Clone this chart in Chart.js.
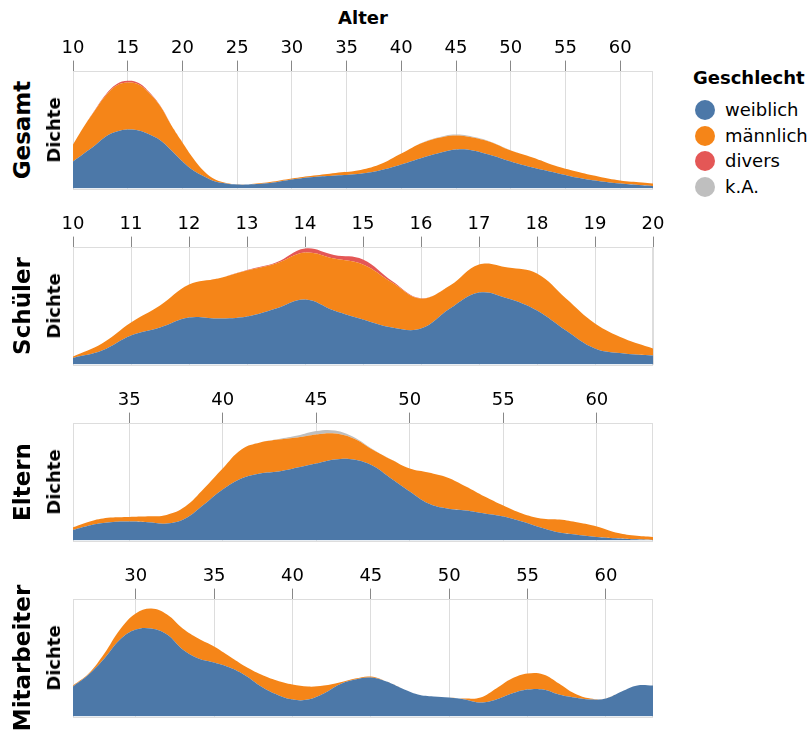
<!DOCTYPE html>
<html>
<head>
<meta charset="utf-8">
<script src="https://cdn.jsdelivr.net/npm/chart.js@4.4.1/dist/chart.umd.min.js"></script>
<style>
  body { margin: 0; background: #fff; font-family: "DejaVu Sans", sans-serif; }
  #wrap { position: relative; width: 809px; height: 733px; overflow: hidden; }
  #wrap canvas { position: absolute; }
  .txt { position: absolute; white-space: nowrap; color: #000; line-height: 1; }
  .rot { transform: translate(-50%, -50%) rotate(-90deg); font-weight: bold; }
  .row { font-size: 23px; }
  .dichte { font-size: 18px; }
  #alter { left: 363px; top: 18px; transform: translate(-50%, -50%); font-weight: bold; font-size: 18px; }
  #legend { position: absolute; left: 693px; top: 67px; font-size: 18px; }
  #legend .title { font-weight: bold; height: 33px; }
  #legend .item { position: relative; height: 25.7px; }
  #legend .dot { position: absolute; left: 2px; top: 0; width: 20px; height: 20px; border-radius: 50%; }
  #legend .name { position: absolute; left: 32px; top: 0; line-height: 20px; }
</style>
</head>
<body>
<div id="wrap">
  <div class="txt" id="alter">Alter</div>
  <div id="legend"><div class="title">Geschlecht</div></div>
</div>
<script>
const genders = ["weiblich", "männlich", "divers", "k.A."];
const colors = ["#4c78a8", "#f58518", "#e45756", "#bfbfbf"];

// Dichte (relative Einheiten) je Geschlecht
// ---- Gesamt ----
const gesamtAlter = [10, 11, 12, 13, 14, 15, 16, 17, 18, 19, 20, 21, 22, 23, 24, 25, 26, 28, 30, 32, 34, 36, 38, 40, 42, 44, 45, 46, 48, 50, 52, 54, 56, 58, 60, 62, 63];
const gesamtWeiblich = [27, 35, 43, 52, 57, 59, 58, 54, 48, 38, 27, 18, 12, 7, 5, 4, 4, 5.5, 9, 11.5, 13, 14.5, 18, 24, 31, 37, 39, 39, 34, 27, 21, 16, 11, 7.5, 5, 3.3, 2.7];
const gesamtMaennlich = [17, 27, 35, 41, 46, 47, 46, 41, 34, 25, 19, 12, 5, 2, 0.7, 0.3, 0.2, 1, 1, 1.5, 2.7, 3.5, 6, 11, 15, 15, 14, 13, 13, 11, 10, 7, 6, 4.5, 3, 2.7, 2.3];
const gesamtDivers = [0, 0, 0.5, 1, 1.5, 1.8, 1.5, 1, 0.5, 0.2, 0, 0, 0, 0, 0, 0, 0, 0, 0, 0, 0, 0, 0, 0, 0, 0, 0, 0, 0, 0, 0, 0, 0, 0, 0, 0, 0];
const gesamtKA = [0, 0, 0, 0, 0, 0, 0, 0, 0, 0, 0, 0, 0, 0, 0, 0, 0, 0, 0, 0, 0, 0, 0, 0, 0.4, 0.8, 1, 1, 0.6, 0.3, 0, 0, 0, 0, 0, 0, 0];

// ---- Schüler ----
const schuelerAlter = [10, 10.5, 11, 11.5, 12, 12.5, 13, 13.5, 14, 14.5, 15, 15.5, 16, 16.5, 17, 17.5, 18, 18.5, 19, 19.5, 20];
const schuelerWeiblich = [6.7, 14, 29, 37, 47, 46, 48, 56, 65, 54, 45, 37, 36, 56, 72, 66, 54, 34, 16, 11, 9];
const schuelerMaennlich = [1.3, 7, 13, 22, 33, 40, 46, 45, 47, 52, 55, 45, 30, 23, 28, 31, 37, 32, 25, 15, 7];
const schuelerDivers = [0, 0, 0, 0, 0, 0, 0.5, 1, 4, 3.5, 5, 1.5, 0.3, 0, 0, 0, 0, 0, 0, 0, 0];
const schuelerKA = [0, 0, 0, 0, 0, 0, 0, 0, 0, 0, 0, 0, 0, 0, 0, 0, 0, 0, 0, 0, 0];

// ---- Eltern ----
const elternAlter = [32, 33, 34, 35, 36, 37, 38, 39, 40, 41, 42, 43, 44, 45, 46, 47, 48, 49, 50, 51, 52, 53, 54, 55, 56, 57, 58, 59, 60, 61, 62, 63];
const elternWeiblich = [10.7, 15.7, 18.3, 19, 18.3, 17, 22, 36, 51, 62, 67, 69, 73, 77, 81, 81, 75, 62, 49, 37, 32, 30, 27, 24, 19, 13, 8, 5.7, 3.7, 2.3, 1.3, 0.7];
const elternMaennlich = [2.6, 4, 4.7, 4.7, 6, 8.7, 12, 16, 21, 29, 31, 32, 30, 29, 26, 21, 16, 19, 23, 31, 31, 24, 17, 11, 8, 9, 13, 12.3, 10.3, 5.7, 3.7, 3];
const elternDivers = [0, 0, 0, 0, 0, 0, 0, 0, 0, 0, 0, 0, 0, 0, 0, 0, 0, 0, 0, 0, 0, 0, 0, 0, 0, 0, 0, 0, 0, 0, 0, 0];
const elternKA = [0, 0, 0, 0, 0, 0, 0, 0, 0, 0, 0, 0.5, 2, 3.5, 3, 1.5, 0.5, 0, 0, 0, 0, 0, 0, 0, 0, 0, 0, 0, 0, 0, 0, 0];

// ---- Mitarbeiter ----
const mitarbeiterAlter = [26, 27, 28, 29, 30, 31, 32, 33, 34, 35, 36, 37, 38, 39, 40, 41, 42, 43, 44, 45, 46, 47, 48, 49, 50, 51, 52, 53, 54, 55, 56, 57, 58, 59, 60, 61, 62, 63];
const mitarbeiterWeiblich = [30, 42, 58, 77, 87, 88, 82, 67, 58, 54, 49, 41, 30, 22, 17, 17, 23, 32, 37, 39, 35, 28, 22, 20, 19, 17, 14, 17, 23, 27, 27, 22, 19, 17, 18, 25, 31, 31];
const mitarbeiterMaennlich = [1, 1, 5, 10, 16, 20, 20, 21, 20, 16, 11, 9, 12, 14, 15, 13, 8, 2, 1, 1, 0, 0, 0, 0, 0, 1, 5, 11, 15, 16, 15, 11, 4, 1, 0, 0, 0, 0];
const mitarbeiterDivers = mitarbeiterAlter.map(() => 0);
const mitarbeiterKA = mitarbeiterAlter.map(() => 0);

const wrap = document.getElementById("wrap");
const PLOT_H = 118;

// heller Rahmen um die Zeichenfläche
const framePlugin = {
  id: "frame",
  beforeDatasetsDraw(chart) {
    const { ctx, chartArea: a } = chart;
    ctx.save();
    ctx.strokeStyle = "#ddd";
    ctx.lineWidth = 1;
    ctx.strokeRect(Math.round(a.left) + 0.5, Math.round(a.top) + 0.5, Math.round(a.width) - 1, Math.round(a.height));
    ctx.restore();
  }
};

function addLabel(text, cls, x, y) {
  const el = document.createElement("div");
  el.className = "txt rot " + cls;
  el.textContent = text;
  el.style.left = x + "px";
  el.style.top = y + "px";
  wrap.appendChild(el);
}

function createPanel(name, top, ages, series, min, max, step) {
  const canvas = document.createElement("canvas");
  canvas.width = 640;
  canvas.height = 180;
  canvas.style.left = "43px";
  wrap.appendChild(canvas);

  const chart = new Chart(canvas.getContext("2d"), {
    type: "line",
    data: {
      datasets: series.map((vals, i) => ({
        label: genders[i],
        data: ages.map((a, j) => ({ x: a, y: vals[j] })),
        backgroundColor: colors[i],
        borderColor: "rgba(0,0,0,0)",
        borderWidth: 0,
        pointRadius: 0,
        fill: i === 0 ? "origin" : "-1",
        tension: 0.4
      }))
    },
    options: {
      responsive: false,
      animation: false,
      layout: { padding: { left: 30, right: 30, top: 0, bottom: 10 } },
      plugins: { legend: { display: false }, tooltip: { enabled: false } },
      scales: {
        x: {
          type: "linear",
          position: "top",
          min,
          max,
          ticks: {
            stepSize: step,
            includeBounds: false,
            autoSkip: false,
            maxRotation: 0,
            color: "#000",
            padding: 1,
            font: { family: "DejaVu Sans", size: 18 }
          },
          grid: { color: "#ddd", tickColor: "#888", tickLength: 10 },
          border: { display: false }
        },
        y: { display: false, stacked: true, min: 0, max: PLOT_H }
      }
    },
    plugins: [framePlugin]
  });

  // Zeichenfläche auf feste Höhe und Position bringen
  chart.options.layout.padding.bottom = 180 - chart.chartArea.top - PLOT_H;
  chart.update();
  canvas.style.top = (top - chart.chartArea.top) + "px";

  const mid = top + PLOT_H / 2;
  addLabel(name, "row", 22, mid);
  addLabel("Dichte", "dichte", 54, mid);
}

createPanel("Gesamt", 71, gesamtAlter, [gesamtWeiblich, gesamtMaennlich, gesamtDivers, gesamtKA], 10, 63, 5);
createPanel("Schüler", 247, schuelerAlter, [schuelerWeiblich, schuelerMaennlich, schuelerDivers, schuelerKA], 10, 20, 1);
createPanel("Eltern", 423, elternAlter, [elternWeiblich, elternMaennlich, elternDivers, elternKA], 32, 63, 5);
createPanel("Mitarbeiter", 599, mitarbeiterAlter, [mitarbeiterWeiblich, mitarbeiterMaennlich, mitarbeiterDivers, mitarbeiterKA], 26, 63, 5);

// Legende
const legend = document.getElementById("legend");
genders.forEach((g, i) => {
  const item = document.createElement("div");
  item.className = "item";
  item.innerHTML = `<span class="dot" style="background:${colors[i]}"></span><span class="name">${g}</span>`;
  legend.appendChild(item);
});
</script>
</body>
</html>
